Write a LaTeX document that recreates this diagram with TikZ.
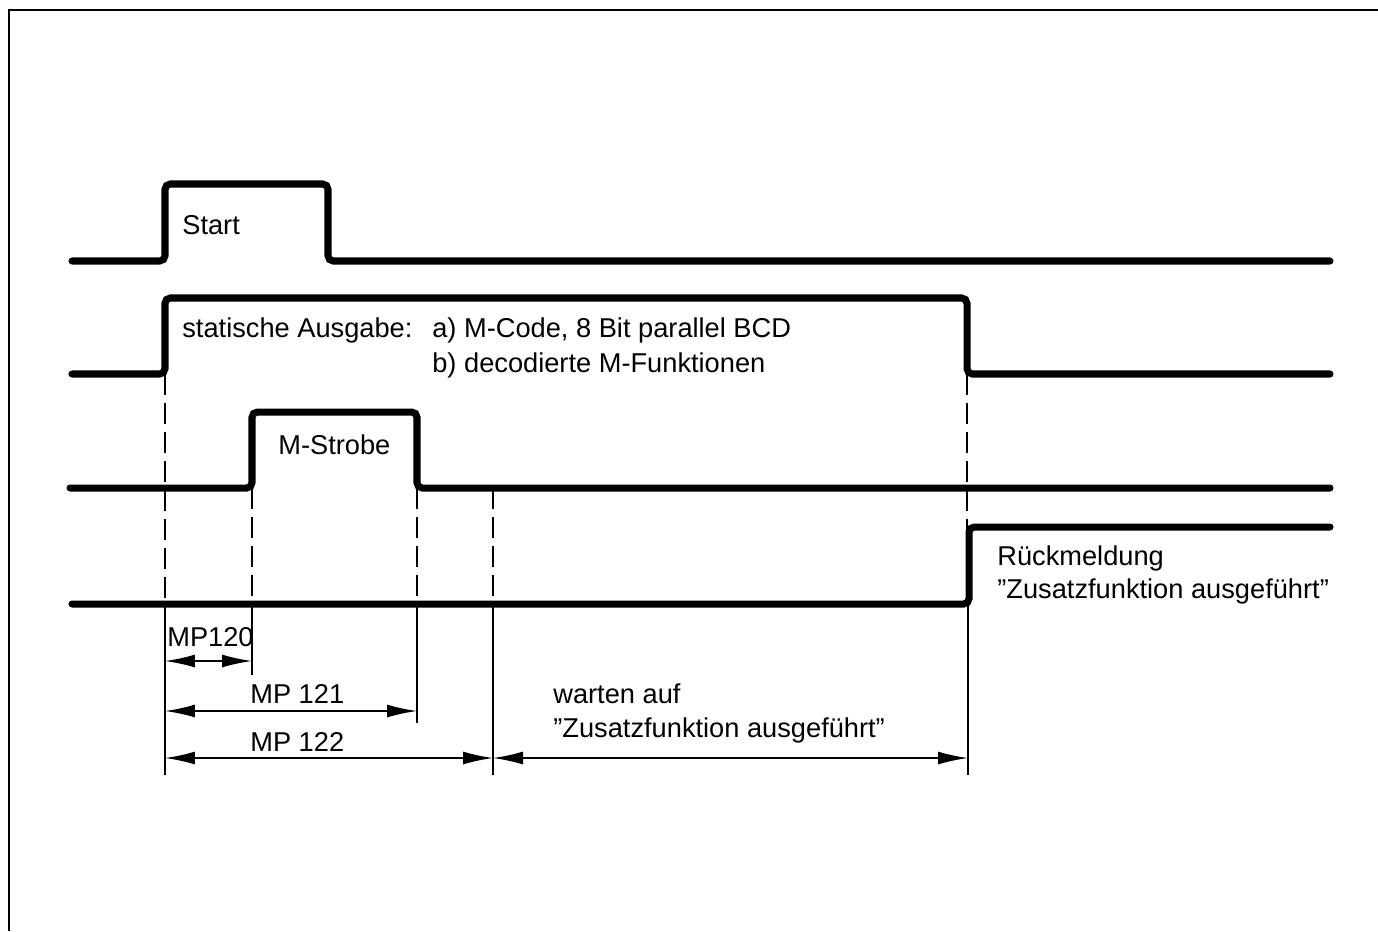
\documentclass[tikz,border=0pt]{standalone}
\usepackage{fontspec}
\setmainfont{Liberation Sans}
\usetikzlibrary{arrows.meta}

\begin{document}
\begin{tikzpicture}[
  x=0.02cm, y=-0.02cm,
  signal/.style={line width=4pt,rounded corners=3pt,line cap=round},
  guide/.style={line width=1.1pt,dash pattern=on 12pt off 4.5pt},
  extline/.style={line width=1.1pt},
  dim/.style={line width=1pt,
    {Latex[length=6mm,width=2.6mm]}-{Latex[length=6mm,width=2.6mm]}},
  lbl/.style={anchor=base west,inner sep=0pt,
    font=\fontsize{15.5}{19}\selectfont}
]
\useasboundingbox (0,0) rectangle (1378,931);
\draw[line width=1.2pt] (9,931) -- (9,10) -- (1378,10);

% signals
\draw[signal] (72,261) -- (165,261) -- (165,184) -- (328,184) -- (328,261) -- (1330,261);
\draw[signal] (72,374) -- (165,374) -- (165,298) -- (967,298) -- (967,374) -- (1330,374);
\draw[signal] (70,488) -- (252,488) -- (252,412) -- (417,412) -- (417,488) -- (1330,488);
\draw[signal] (72,604) -- (969,604) -- (969,527) -- (1330,527);

% guides
\draw[guide] (165,374) -- (165,604);
\draw[guide] (967,374) -- (967,604);
\foreach \x in {252,417,493}
  \draw[guide] (\x,488) -- (\x,604);

% extension lines
\draw[extline] (165,604) -- (165,775);
\draw[extline] (252,604) -- (252,675);
\draw[extline] (417,604) -- (417,723);
\draw[extline] (493,604) -- (493,775);
\draw[extline] (968,604) -- (968,775);

% dimension ends
\coordinate (m120a) at (165,661);
\coordinate (m120b) at (252,661);
\coordinate (m121a) at (165,711);
\coordinate (m121b) at (417,711);
\coordinate (m122a) at (165,758);
\coordinate (m122b) at (493,758);
\coordinate (waitb) at (968,758);

\draw[dim] (m120a) -- (m120b);
\draw[dim] (m121a) -- (m121b);
\draw[dim] (m122a) -- (m122b);
\draw[dim] (m122b) -- (waitb);

% labels
\node[lbl] (start) at (182,234) {Start};
\node[lbl] (ausgabe) at (182,337) {statische Ausgabe:};
\node[lbl] (codeA) at (432,337) {a) M-Code, 8 Bit parallel BCD};
\node[lbl] (codeB) at (432,372) {b) decodierte M-Funktionen};
\node[lbl] (strobe) at (278,454) {M-Strobe};
\node[lbl] (rueck) at (997,565) {Rückmeldung};
\node[lbl] (rueckB) at (997,598) {"Zusatzfunktion ausgeführt"};
\node[lbl] (mp120) at (167,646) {MP120};
\node[lbl] (mp121) at (250,703) {MP 121};
\node[lbl] (mp122) at (250,751) {MP 122};
\node[lbl] (warten) at (553,703) {warten auf};
\node[lbl] (wartenB) at (553,737) {"Zusatzfunktion ausgeführt"};
\end{tikzpicture}
\end{document}
